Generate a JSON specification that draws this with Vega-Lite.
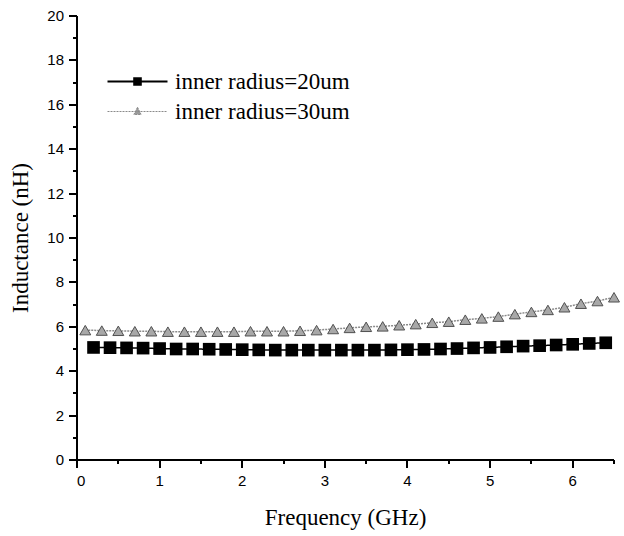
{
  "$schema": "https://vega.github.io/schema/vega-lite/v6.json",
  "width": 537,
  "height": 444,
  "autosize": {"type": "none"},
  "padding": {"left": 77, "top": 16, "right": 10, "bottom": 76},
  "background": "white",
  "config": {"view": {"stroke": null}, "font": "Liberation Sans"},
  "data": {
    "values": [
      {"series": "inner radius=20um", "freq": 0.2, "L": 5.07},
      {"series": "inner radius=20um", "freq": 0.4, "L": 5.06},
      {"series": "inner radius=20um", "freq": 0.6, "L": 5.05},
      {"series": "inner radius=20um", "freq": 0.8, "L": 5.04},
      {"series": "inner radius=20um", "freq": 1.0, "L": 5.02},
      {"series": "inner radius=20um", "freq": 1.2, "L": 5.0},
      {"series": "inner radius=20um", "freq": 1.4, "L": 5.0},
      {"series": "inner radius=20um", "freq": 1.6, "L": 4.99},
      {"series": "inner radius=20um", "freq": 1.8, "L": 4.98},
      {"series": "inner radius=20um", "freq": 2.0, "L": 4.97},
      {"series": "inner radius=20um", "freq": 2.2, "L": 4.96},
      {"series": "inner radius=20um", "freq": 2.4, "L": 4.95},
      {"series": "inner radius=20um", "freq": 2.6, "L": 4.95},
      {"series": "inner radius=20um", "freq": 2.8, "L": 4.95},
      {"series": "inner radius=20um", "freq": 3.0, "L": 4.95},
      {"series": "inner radius=20um", "freq": 3.2, "L": 4.95},
      {"series": "inner radius=20um", "freq": 3.4, "L": 4.95},
      {"series": "inner radius=20um", "freq": 3.6, "L": 4.95},
      {"series": "inner radius=20um", "freq": 3.8, "L": 4.96},
      {"series": "inner radius=20um", "freq": 4.0, "L": 4.97},
      {"series": "inner radius=20um", "freq": 4.2, "L": 4.98},
      {"series": "inner radius=20um", "freq": 4.4, "L": 5.0},
      {"series": "inner radius=20um", "freq": 4.6, "L": 5.02},
      {"series": "inner radius=20um", "freq": 4.8, "L": 5.05},
      {"series": "inner radius=20um", "freq": 5.0, "L": 5.07},
      {"series": "inner radius=20um", "freq": 5.2, "L": 5.1},
      {"series": "inner radius=20um", "freq": 5.4, "L": 5.13},
      {"series": "inner radius=20um", "freq": 5.6, "L": 5.15},
      {"series": "inner radius=20um", "freq": 5.8, "L": 5.18},
      {"series": "inner radius=20um", "freq": 6.0, "L": 5.21},
      {"series": "inner radius=20um", "freq": 6.2, "L": 5.25},
      {"series": "inner radius=20um", "freq": 6.4, "L": 5.28},
      {"series": "inner radius=30um", "freq": 0.1, "L": 5.85},
      {"series": "inner radius=30um", "freq": 0.3, "L": 5.83},
      {"series": "inner radius=30um", "freq": 0.5, "L": 5.82},
      {"series": "inner radius=30um", "freq": 0.7, "L": 5.8},
      {"series": "inner radius=30um", "freq": 0.9, "L": 5.8},
      {"series": "inner radius=30um", "freq": 1.1, "L": 5.78},
      {"series": "inner radius=30um", "freq": 1.3, "L": 5.78},
      {"series": "inner radius=30um", "freq": 1.5, "L": 5.78},
      {"series": "inner radius=30um", "freq": 1.7, "L": 5.78},
      {"series": "inner radius=30um", "freq": 1.9, "L": 5.78},
      {"series": "inner radius=30um", "freq": 2.1, "L": 5.8},
      {"series": "inner radius=30um", "freq": 2.3, "L": 5.8},
      {"series": "inner radius=30um", "freq": 2.5, "L": 5.8},
      {"series": "inner radius=30um", "freq": 2.7, "L": 5.82},
      {"series": "inner radius=30um", "freq": 2.9, "L": 5.85},
      {"series": "inner radius=30um", "freq": 3.1, "L": 5.9},
      {"series": "inner radius=30um", "freq": 3.3, "L": 5.95},
      {"series": "inner radius=30um", "freq": 3.5, "L": 6.0},
      {"series": "inner radius=30um", "freq": 3.7, "L": 6.02},
      {"series": "inner radius=30um", "freq": 3.9, "L": 6.07},
      {"series": "inner radius=30um", "freq": 4.1, "L": 6.12},
      {"series": "inner radius=30um", "freq": 4.3, "L": 6.18},
      {"series": "inner radius=30um", "freq": 4.5, "L": 6.23},
      {"series": "inner radius=30um", "freq": 4.7, "L": 6.32},
      {"series": "inner radius=30um", "freq": 4.9, "L": 6.38},
      {"series": "inner radius=30um", "freq": 5.1, "L": 6.46},
      {"series": "inner radius=30um", "freq": 5.3, "L": 6.57},
      {"series": "inner radius=30um", "freq": 5.5, "L": 6.67},
      {"series": "inner radius=30um", "freq": 5.7, "L": 6.76},
      {"series": "inner radius=30um", "freq": 5.9, "L": 6.88},
      {"series": "inner radius=30um", "freq": 6.1, "L": 7.04},
      {"series": "inner radius=30um", "freq": 6.3, "L": 7.16},
      {"series": "inner radius=30um", "freq": 6.5, "L": 7.33}
    ]
  },
  "encoding": {
    "x": {
      "field": "freq",
      "type": "quantitative",
      "scale": {"domain": [0, 6.5], "nice": false, "zero": false},
      "axis": {
        "values": [0, 0.5, 1, 1.5, 2, 2.5, 3, 3.5, 4, 4.5, 5, 5.5, 6, 6.5],
        "labelExpr": "datum.value % 1 === 0 ? format(datum.value, 'd') : ''",
        "tickSize": {"condition": {"test": "datum.value % 1 === 0", "value": 8}, "value": 4},
        "grid": false,
        "translate": 0,
        "domainColor": "#000000",
        "domainWidth": 2,
        "tickColor": "#000000",
        "tickWidth": 2,
        "labelFont": "Liberation Sans",
        "labelFontSize": 15,
        "labelColor": "black",
        "labelPadding": 6,
        "title": "Frequency (GHz)",
        "titleFont": "Liberation Serif",
        "titleFontSize": 23,
        "titleFontWeight": "normal",
        "titleColor": "black",
        "titlePadding": 18
      }
    },
    "y": {
      "field": "L",
      "type": "quantitative",
      "scale": {"domain": [0, 20], "nice": false},
      "axis": {
        "values": [0, 1, 2, 3, 4, 5, 6, 7, 8, 9, 10, 11, 12, 13, 14, 15, 16, 17, 18, 19, 20],
        "labelExpr": "datum.value % 2 === 0 ? datum.label : ''",
        "tickSize": {"condition": {"test": "datum.value % 2 === 0", "value": 8}, "value": 4},
        "grid": false,
        "translate": 0,
        "domainColor": "#000000",
        "domainWidth": 2,
        "tickColor": "#000000",
        "tickWidth": 2,
        "labelFont": "Liberation Sans",
        "labelFontSize": 15,
        "labelColor": "black",
        "labelPadding": 5,
        "title": "Inductance (nH)",
        "titleFont": "Liberation Serif",
        "titleFontSize": 23,
        "titleFontWeight": "normal",
        "titleColor": "black",
        "titlePadding": 14
      }
    }
  },
  "layer": [
    {
      "mark": {"type": "line", "strokeWidth": 1.5},
      "encoding": {
        "color": {
          "field": "series",
          "type": "nominal",
          "scale": {"domain": ["inner radius=20um", "inner radius=30um"], "range": ["#000000", "#8a8a8a"]},
          "legend": {
            "title": null,
            "orient": "none",
            "legendX": 49,
            "legendY": 54,
            "padding": 0,
            "symbolSize": 3600,
            "symbolStrokeWidth": 2,
            "labelFont": "Liberation Serif",
            "labelFontSize": 23,
            "labelColor": "black",
            "labelOffset": 26,
            "rowPadding": 6,
            "labelLimit": 400,
            "encode": {
              "labels": {
                "update": {
                  "font": {"value": "Liberation Serif"},
                  "fontSize": {"value": 23},
                  "fill": {"value": "#000000"}
                }
              },
              "symbols": {
                "update": {
                  "shape": {"signal": "datum.value === 'inner radius=20um' ? 'M-1,0H1M-0.11,-0.11H0.11V0.11H-0.11Z' : 'M-1,0H1M0,-0.14L0.12,0.1H-0.12Z'"},
                  "fill": {"signal": "datum.value === 'inner radius=20um' ? '#000000' : '#9a9a9a'"},
                  "stroke": {"signal": "datum.value === 'inner radius=20um' ? '#000000' : '#8a8a8a'"},
                  "strokeWidth": {"signal": "datum.value === 'inner radius=20um' ? 2 : 1"},
                  "strokeDash": {"signal": "datum.value === 'inner radius=20um' ? [1,0] : [2,1]"},
                  "opacity": {"value": 1}
                }
              }
            }
          }
        },
        "strokeDash": {
          "field": "series",
          "type": "nominal",
          "scale": {"domain": ["inner radius=20um", "inner radius=30um"], "range": [[1, 0], [2, 1]]},
          "legend": null
        }
      }
    },
    {
      "transform": [{"filter": "datum.series === 'inner radius=20um'"}],
      "mark": {"type": "point", "shape": "square", "filled": true, "size": 160, "color": "black", "opacity": 1}
    },
    {
      "transform": [{"filter": "datum.series === 'inner radius=30um'"}],
      "mark": {"type": "point", "shape": "triangle-up", "filled": true, "size": 120, "fill": "#a8a8a8", "stroke": "#505050", "strokeWidth": 1, "opacity": 1}
    }
  ]
}
